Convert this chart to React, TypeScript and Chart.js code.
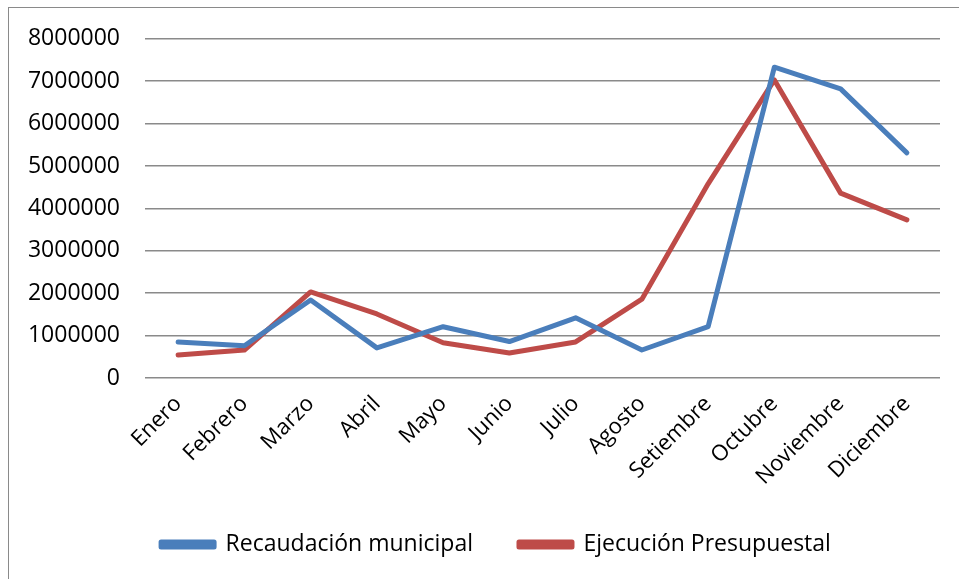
import React, { useEffect, useRef } from "react";
import { Chart, registerables } from "chart.js";

Chart.register(...registerables);

const months = [
  "Enero", "Febrero", "Marzo", "Abril", "Mayo", "Junio",
  "Julio", "Agosto", "Setiembre", "Octubre", "Noviembre", "Diciembre",
];
const recaudacion = [850000, 760000, 1840000, 710000, 1210000, 860000, 1420000, 660000, 1210000, 7330000, 6820000, 5310000];
const ejecucion = [540000, 660000, 2030000, 1510000, 830000, 590000, 850000, 1860000, 4580000, 7030000, 4360000, 3730000];
const seriesNames = ["Recaudación municipal", "Ejecución Presupuestal"];
const yMin = 0;
const yMax = 8000000;
const yStep = 1000000;

const FONT = "'Open Sans', sans-serif";

const legendShift = {
  id: "legendShift",
  beforeDraw(chart: any) {
    if (chart.legend) {
      chart.legend.left = 52;
    }
  },
};

export default function App() {
  const ref = useRef<HTMLCanvasElement | null>(null);
  useEffect(() => {
    if (!ref.current) return;
    const chart = new Chart(ref.current, {
      type: "line",
      data: {
        labels: months,
        datasets: [
          {
            label: seriesNames[0],
            data: recaudacion,
            borderColor: "#4A7EBB",
            backgroundColor: "#4A7EBB",
            borderWidth: 5,
            pointRadius: 0,
            borderCapStyle: "round",
            borderJoinStyle: "round",
            tension: 0,
          },
          {
            label: seriesNames[1],
            data: ejecucion,
            borderColor: "#BE4B48",
            backgroundColor: "#BE4B48",
            borderWidth: 5,
            pointRadius: 0,
            borderCapStyle: "round",
            borderJoinStyle: "round",
            tension: 0,
          },
        ],
      },
      options: {
        animation: false,
        responsive: false,
        maintainAspectRatio: false,
        layout: { padding: { left: 0, right: 19, top: 36, bottom: 13 } },
        plugins: {
          tooltip: { enabled: false },
          legend: {
            position: "bottom",
            labels: {
              boxWidth: 53,
              boxHeight: 5,
              padding: 46,
              color: "#000",
              font: { family: FONT, size: 23 },
            },
          },
        },
        scales: {
          x: {
            offset: true,
            grid: { display: false, drawTicks: false },
            border: { display: false },
            ticks: {
              autoSkip: false,
              minRotation: 45,
              maxRotation: 45,
              padding: 13,
              color: "#000",
              font: { family: FONT, size: 22 },
            },
            afterFit: (s: any) => {
              s.height = 109;
            },
          },
          y: {
            min: yMin,
            max: yMax,
            grid: { color: "#8a8a8a", lineWidth: 1.5, drawTicks: false },
            border: { display: false },
            ticks: {
              stepSize: yStep,
              padding: 25,
              color: "#000",
              font: { family: FONT, size: 23 },
              callback: (v: any) => String(v),
            },
            afterFit: (s: any) => {
              s.width = 145;
            },
          },
        },
      },
      plugins: [legendShift],
    });
    return () => chart.destroy();
  }, []);
  return (
    <div style={{ position: "fixed", left: 0, top: 0, width: 959, height: 579, background: "#fff", overflow: "hidden" }}>
      <div style={{ position: "absolute", left: 8, top: 7, width: 960, height: 600, borderLeft: "1.5px solid #8a8a8a", borderTop: "1.5px solid #8a8a8a" }} />
      <canvas ref={ref} width={959} height={579} style={{ position: "absolute", left: 0, top: 0 }} />
    </div>
  );
}
